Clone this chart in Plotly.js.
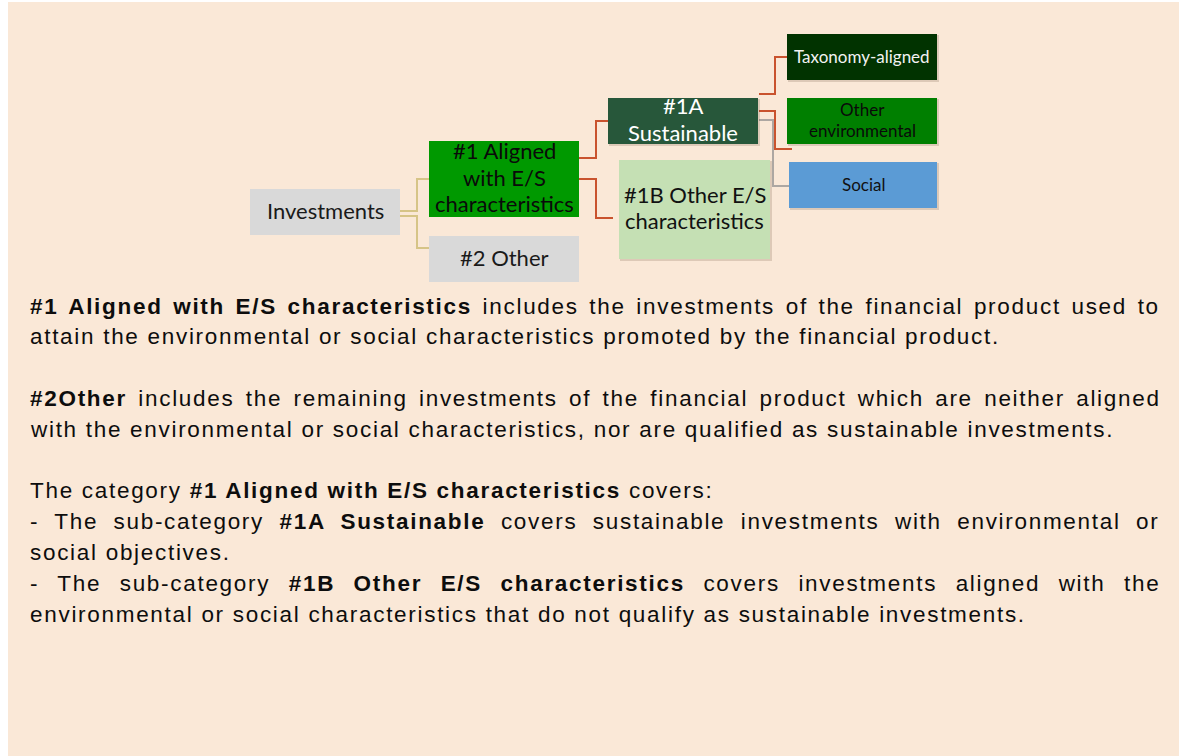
<!DOCTYPE html>
<html><head><meta charset="utf-8">
<script src="https://cdn.plot.ly/plotly-3.0.1.min.js"></script>
<style>html,body{margin:0;padding:0;background:#fff;} #chart{width:1187px;height:756px;}</style>
</head><body><div id="chart"></div>
<script>
// ---- diagram content ----
const nodeIds = ['inv','a1','o2','s1a','b1','tax','env','soc'];
const nodeLabels = ['Investments','#1 Aligned\nwith E/S\ncharacteristics','#2 Other','#1A\nSustainable','#1B Other E/S\ncharacteristics','Taxonomy-aligned','Other\nenvironmental','Social'];
const edgeFrom = ['inv','inv','a1','a1','s1a','s1a','s1a'];
const edgeTo   = ['a1','o2','s1a','b1','tax','env','soc'];

const paragraphLines = [
 '<b>#1 Aligned with E/S characteristics</b> includes the investments of the financial product used to',
 'attain the environmental or social characteristics promoted by the financial product.',
 '',
 '<b>#2Other</b> includes the remaining investments of the financial product which are neither aligned',
 'with the environmental or social characteristics, nor are qualified as sustainable investments.',
 '',
 'The category <b>#1 Aligned with E/S characteristics</b> covers:',
 '- The sub-category <b>#1A Sustainable</b> covers sustainable investments with environmental or',
 'social objectives.',
 '- The sub-category <b>#1B Other E/S characteristics</b> covers investments aligned with the',
 'environmental or social characteristics that do not qualify as sustainable investments.'
];
const lineJustified = [true,false,false,true,false,false,false,true,false,true,false];

// ---- layout / style (pixel space) ----
const boxGeom = { // x0,x1,y0,y1
 inv:[250,400,189,235], a1:[429,579,141,217], o2:[429,579,236,282], s1a:[608,758,98,144],
 b1:[619,770,160,259], tax:[787,937,34,80], env:[787,937,98,144], soc:[789,937,162,208]
};
const boxStyle = {
 inv:{fill:'#D9D9D9',font:'#1a1a1a',size:22,shadow:false},
 a1:{fill:'#009900',font:'#0a0a0a',size:22,shadow:false},
 o2:{fill:'#D9D9D9',font:'#1a1a1a',size:22,shadow:false},
 s1a:{fill:'#27573A',font:'#ffffff',size:22,shadow:true},
 b1:{fill:'#C5E0B4',font:'#111111',size:22,shadow:true},
 tax:{fill:'#013300',font:'#f2f2f2',size:17,shadow:true},
 env:{fill:'#007F00',font:'#0a0a0a',size:17,shadow:true},
 soc:{fill:'#5B9BD5',font:'#111111',size:17,shadow:true}
};
const edgeRoute = [ // x0,y0,xmid,y1,x1
 [400,211,417,179,429],[400,216,417,248,429],
 [579,158,596,121,608],[579,179,596,218,613],
 [759,94,775,57,787],[759,111,775,149,792],[759,120,773,186,789]
];
const edgeColor = ['#D6C487','#D6C487','#C9532E','#C9532E','#C9532E','#C9532E','#ADA7A2'];

const shapes = [];
const annotations = [];
shapes.push({type:'rect',xref:'x',yref:'y',x0:8,x1:1179,y0:2,y1:756,fillcolor:'#FAE8D7',line:{width:0},layer:'below'});

edgeFrom.forEach((f,i)=>{
  const r = edgeRoute[i];
  shapes.push({type:'path',xref:'x',yref:'y',path:`M${r[0]},${r[1]} H${r[2]} V${r[3]} H${r[4]}`,
    line:{color:edgeColor[i],width:2},fillcolor:'rgba(0,0,0,0)'});
});

nodeIds.forEach((id,i)=>{
  const g = boxGeom[id], s = boxStyle[id];
  if(s.shadow){
    shapes.push({type:'rect',xref:'x',yref:'y',x0:g[0]+1,x1:g[1]+2,y0:g[2]+1,y1:g[3]+2,fillcolor:'rgba(90,60,40,0.18)',line:{width:0}});
  }
  shapes.push({type:'rect',xref:'x',yref:'y',x0:g[0],x1:g[1],y0:g[2],y1:g[3],fillcolor:s.fill,line:{width:0}});
  const lines = nodeLabels[i].split('\n');
  const lh = s.size*1.2;
  const cy = (g[2]+g[3])/2 - (s.size>20?2:1);
  lines.forEach((t,k)=>{
    annotations.push({xref:'x',yref:'y',x:(g[0]+g[1])/2,y:cy+(k-(lines.length-1)/2)*lh,text:t,showarrow:false,
      xanchor:'center',yanchor:'middle',borderpad:0,font:{family:'Lato, "Open Sans", sans-serif',size:s.size,color:s.font}});
  });
});

// paragraph text
const PFS = 22.5, LS = 1.7, PX0 = 29, PX1 = 1158, PY0 = 306, PLH = 30.8;
const ctx = document.createElement('canvas').getContext('2d');
function measure(html){
  const parts = html.split(/(<\/?b>)/);
  let bold=false, w=0, n=0, sp=0;
  parts.forEach(p=>{
    if(p==='<b>'){bold=true;return;}
    if(p==='</b>'){bold=false;return;}
    ctx.font = (bold?'bold ':'')+PFS+'px "Liberation Sans"';
    w += ctx.measureText(p).width; n += p.length; sp += (p.match(/ /g)||[]).length;
  });
  return {w:w+LS*n, sp:sp};
}
paragraphLines.forEach((ln,i)=>{
  if(!ln) return;
  let ws = 0;
  if(lineJustified[i]){
    const m = measure(ln);
    ws = (PX1-PX0 - (m.w-LS))/m.sp;
  }
  annotations.push({xref:'x',yref:'y',x:PX0,y:PY0+i*PLH,xanchor:'left',yanchor:'middle',showarrow:false,borderpad:0,
    text:`<span style="letter-spacing:${LS}px;word-spacing:${ws.toFixed(2)}px">${ln}</span>`,
    font:{family:'"Liberation Sans", Arial, sans-serif',size:PFS,color:'#0d0d0d'}});
});

const layout = {
  width:1187,height:756,margin:{l:0,r:0,t:0,b:0},paper_bgcolor:'#ffffff',plot_bgcolor:'rgba(0,0,0,0)',
  xaxis:{range:[0,1187],visible:false,fixedrange:true},
  yaxis:{range:[756,0],visible:false,fixedrange:true},
  showlegend:false,shapes:shapes,annotations:annotations
};
Plotly.newPlot('chart',[{x:[0,1187],y:[0,756],type:'scatter',mode:'markers',marker:{opacity:0},hoverinfo:'skip'}],layout,{displayModeBar:false,staticPlot:true});
</script></body></html>
